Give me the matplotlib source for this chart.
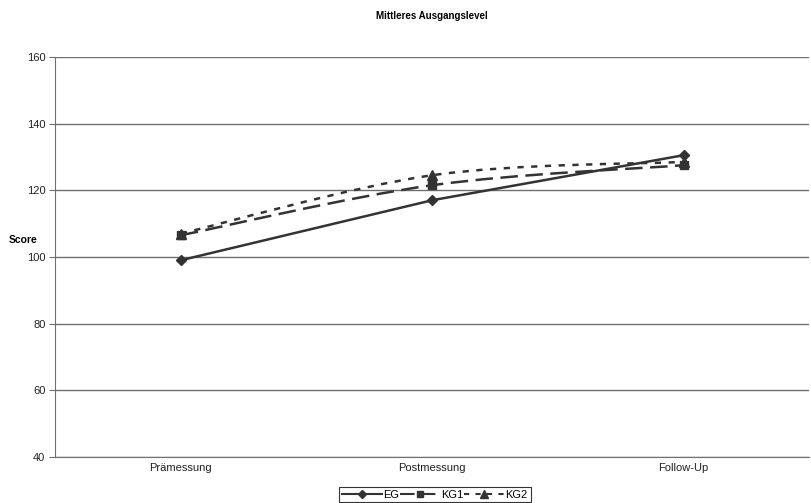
import numpy as np
import matplotlib.pyplot as plt
from matplotlib.path import Path
from matplotlib.patches import PathPatch
from matplotlib.lines import Line2D

categories = ['Prämessung', 'Postmessung', 'Follow-Up']
eg = [99.0, 117.0, 130.5]
kg1 = [106.5, 121.5, 127.5]
kg2 = [107.0, 124.5, 128.5]
yticks = [40, 60, 80, 100, 120, 140, 160]

col = '#333333'
plt.rcParams['font.family'] = ['Liberation Sans', 'DejaVu Sans']

fig = plt.figure(figsize=(8.11, 5.03), dpi=100)
ax = fig.add_axes([0.068, 0.0915, 0.93, 0.7955])
x = np.arange(len(categories))


def smooth_path(xs, ys, t=1/6):
    # Excel-like smoothed line: cubic Bezier segments (Catmull-Rom control points)
    pts = list(zip(xs, ys))
    verts = [pts[0]]
    codes = [Path.MOVETO]
    n = len(pts)
    for i in range(n - 1):
        p0 = pts[i - 1] if i > 0 else pts[i]
        p1, p2 = pts[i], pts[i + 1]
        p3 = pts[i + 2] if i + 2 < n else pts[i + 1]
        c1 = (p1[0] + (p2[0] - p0[0]) * t, p1[1] + (p2[1] - p0[1]) * t)
        c2 = (p2[0] - (p3[0] - p1[0]) * t, p2[1] - (p3[1] - p1[1]) * t)
        verts += [c1, c2, p2]
        codes += [Path.CURVE4] * 3
    return Path(verts, codes)


styles = [
    ('EG', eg, '-', 'D', 5, False),
    ('KG1', kg1, (0, (7, 3)), 's', 6, True),
    ('KG2', kg2, (0, (2.5, 3)), '^', 7, True),
]
handles = []
for name, vals, ls, mk, ms, smooth in styles:
    if smooth:
        patch = PathPatch(smooth_path(x, vals), facecolor='none', edgecolor=col,
                          lw=1.8, linestyle=ls, zorder=3)
        ax.add_patch(patch)
        ax.plot(x, vals, linestyle='none', marker=mk, ms=ms, color=col, zorder=4)
    else:
        ax.plot(x, vals, linestyle=ls, marker=mk, ms=ms, color=col, lw=1.8, zorder=4)
    handles.append(Line2D([], [], color=col, linestyle=ls, marker=mk, ms=ms - 1, lw=1.5))

ax.set_xlim(-0.5, 2.5)
ax.set_ylim(40, 160)
ax.set_yticks(yticks)
ax.set_xticks(x)
ax.set_xticklabels(categories)
ax.yaxis.grid(True, color='#707070', lw=1)
ax.set_axisbelow(True)
for s in ['top', 'right']:
    ax.spines[s].set_visible(False)
ax.spines['left'].set_color('#707070')
ax.spines['bottom'].set_color('#707070')
ax.tick_params(axis='y', labelsize=8, colors='#707070', labelcolor='#222222', length=4, pad=3)
ax.tick_params(axis='x', labelsize=8, length=0, pad=4, labelcolor='#222222')

fig.text(0.533, 0.968, 'Mittleres Ausgangslevel', ha='center', va='center',
         fontsize=7, fontweight='bold')
fig.text(0.029, 0.522, 'Score', ha='center', va='center', fontsize=7.5, fontweight='bold')

leg = fig.legend(handles, ['EG', 'KG1', 'KG2'], loc='upper center',
                 bbox_to_anchor=(0.536, 0.032), ncol=3, fontsize=8, frameon=True,
                 fancybox=False, edgecolor='black', handlelength=3.6, handletextpad=0.1,
                 columnspacing=0.1, borderpad=0.25, borderaxespad=0)
leg.get_frame().set_linewidth(0.8)

fig.savefig('out.png', dpi=100)
